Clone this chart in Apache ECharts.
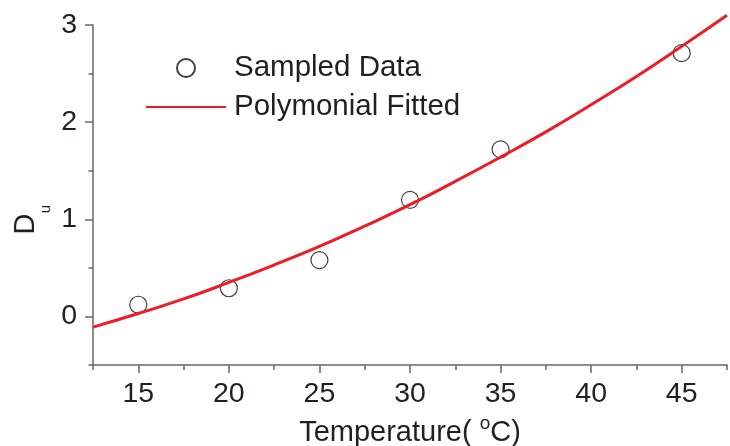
<!DOCTYPE html>
<html>
<head>
<meta charset="utf-8">
<script src="https://cdn.jsdelivr.net/npm/echarts@6/dist/echarts.min.js"></script>
<style>html,body{margin:0;padding:0;background:#fff}#c{width:730px;height:446px}</style>
</head>
<body>
<div id="c"></div>
<script>
// Sampled data
const sampleX = [15, 20, 25, 30, 35, 45];
const sampleY = [0.12, 0.29, 0.58, 1.20, 1.72, 2.71];
// Polynomial fitted curve
const fitX = [12.5, 15, 17.5, 20, 22.5, 25, 27.5, 30, 32.5, 35, 37.5, 40, 42.5, 45, 47.5];
const fitY = [-0.11, 0.03, 0.18, 0.35, 0.53, 0.72, 0.93, 1.15, 1.39, 1.64, 1.90, 2.18, 2.47, 2.78, 3.10];
// Ticks
const xMajor = [15, 20, 25, 30, 35, 40, 45];
const xMinor = [12.5, 17.5, 22.5, 27.5, 32.5, 37.5, 42.5, 47.5];
const yMajor = [0, 1, 2, 3];
const yMinor = [-0.5, 0.5, 1.5, 2.5];

const FONT = 'Liberation Sans, Arial, sans-serif';
const TXT = '#231f20';
const AX = '#666666';

const chart = echarts.init(document.getElementById('c'));
const lineSt = {color: AX, width: 1.5};
chart.setOption({
  animation: false,
  backgroundColor: '#fff',
  textStyle: {fontFamily: FONT},
  grid: {left: 93, right: 3, top: 25, bottom: 81, containLabel: false, outerBoundsMode: 'none'},
  legend: {
    orient: 'vertical', left: 145, top: 53, padding: 0,
    itemWidth: 80, itemHeight: 18, itemGap: 9,
    textStyle: {fontSize: 29.5, color: TXT, fontFamily: FONT, padding: [0, 0, 0, 3]},
    data: ['Sampled Data', 'Polymonial Fitted']
  },
  xAxis: [{
    type: 'value', min: 12.5, max: 47.5,
    axisLine: {onZero: false, lineStyle: lineSt},
    axisTick: {customValues: xMajor, length: 8, lineStyle: lineSt},
    axisLabel: {customValues: xMajor, fontSize: 28.5, color: TXT, margin: 15, fontFamily: FONT},
    splitLine: {show: false},
    name: 'Temperature( {sup|o}C)', nameLocation: 'middle', nameGap: 42,
    nameTextStyle: {fontSize: 29, color: TXT, fontFamily: FONT,
      rich: {sup: {fontSize: 19, color: TXT, fontFamily: FONT, padding: [0, 0, 20, 0]}}}
  }, {
    type: 'value', min: 12.5, max: 47.5, position: 'bottom',
    axisLine: {show: false, onZero: false},
    axisTick: {customValues: xMinor, length: 5, lineStyle: lineSt},
    axisLabel: {show: false}, splitLine: {show: false}
  }],
  yAxis: [{
    type: 'value', min: -0.5, max: 3,
    axisLine: {onZero: false, lineStyle: lineSt},
    axisTick: {customValues: yMajor, length: 8, lineStyle: lineSt},
    axisLabel: {customValues: yMajor, fontSize: 28.5, color: TXT, margin: 16, fontFamily: FONT},
    splitLine: {show: false},
    name: 'D', nameLocation: 'middle', nameGap: 53, nameRotate: 90,
    nameTextStyle: {fontSize: 29, color: TXT, fontFamily: FONT, padding: [0, 58, 0, 0]}
  }, {
    type: 'value', min: -0.5, max: 3, position: 'left',
    axisLine: {show: false, onZero: false},
    axisTick: {customValues: yMinor, length: 4.5, lineStyle: lineSt},
    axisLabel: {show: false}, splitLine: {show: false},
    name: 'u', nameLocation: 'middle', nameGap: 40, nameRotate: 90,
    nameTextStyle: {fontSize: 15, color: TXT, fontFamily: FONT, padding: [0, 28, 0, 0]}
  }],
  series: [{
    name: 'Sampled Data', type: 'scatter',
    symbol: 'circle', symbolSize: 17,
    itemStyle: {color: 'rgba(255,255,255,0)', borderColor: '#111', borderWidth: 1.2},
    data: sampleX.map((x, i) => [x, sampleY[i]])
  }, {
    name: 'Polymonial Fitted', type: 'line', smooth: true, clip: false,
    showSymbol: false, symbol: 'none',
    lineStyle: {color: '#ee1c25', width: 3},
    itemStyle: {color: 'rgba(0,0,0,0)'},
    data: fitX.map((x, i) => [x, fitY[i]])
  }]
});
</script>
</body>
</html>
